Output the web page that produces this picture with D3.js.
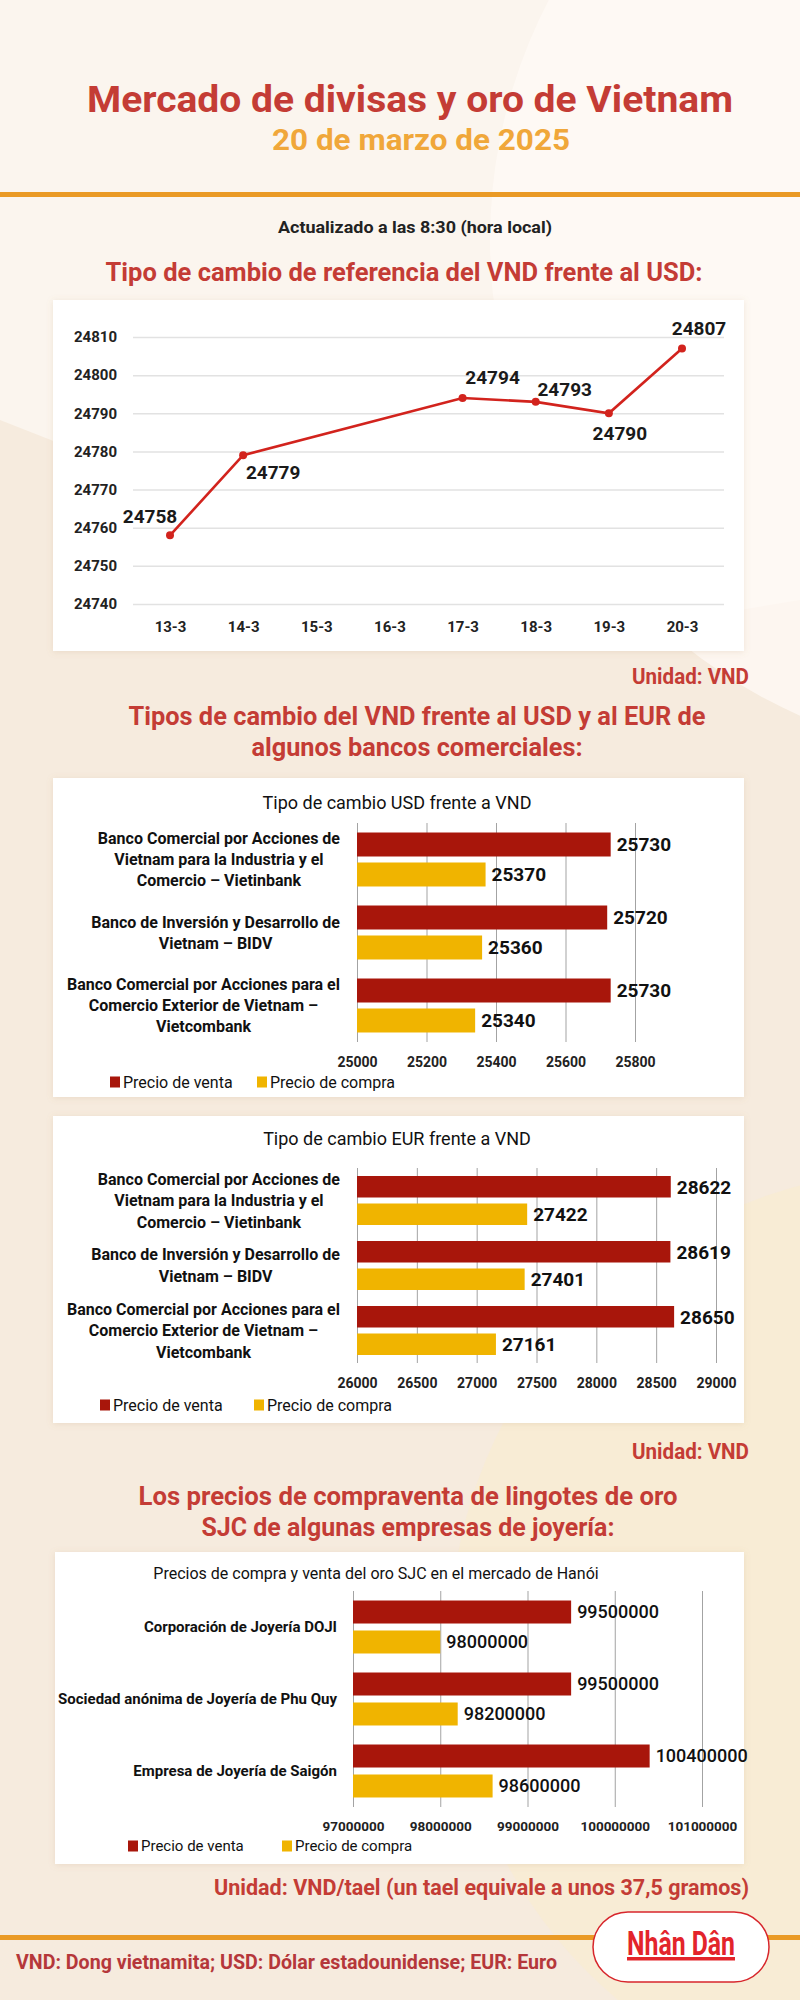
<!DOCTYPE html>
<html>
<head>
<meta charset="utf-8">
<script src="https://cdn.jsdelivr.net/npm/d3@7"></script>
<style>
  body { margin: 0; background: #f6ebde; }
  svg { display: block; }
</style>
</head>
<body>
<svg id="page" width="800" height="2000"></svg>
<script>
// ---- data ----
const dates = ["13-3", "14-3", "15-3", "16-3", "17-3", "18-3", "19-3", "20-3"];
const refRate = [24758, 24779, null, null, 24794, 24793, 24790, 24807];
const refTicks = [24740, 24750, 24760, 24770, 24780, 24790, 24800, 24810];

const banks = [
  "Banco Comercial por Acciones de\nVietnam para la Industria y el\nComercio – Vietinbank",
  "Banco de Inversión y Desarrollo de\nVietnam – BIDV",
  "Banco Comercial por Acciones para el\nComercio Exterior de Vietnam –\nVietcombank"
];
const seriesNames = ["Precio de venta", "Precio de compra"];

const usdVenta = [25730, 25720, 25730];
const usdCompra = [25370, 25360, 25340];
const usdTicks = [25000, 25200, 25400, 25600, 25800];

const eurVenta = [28622, 28619, 28650];
const eurCompra = [27422, 27401, 27161];
const eurTicks = [26000, 26500, 27000, 27500, 28000, 28500, 29000];

const jewellers = [
  "Corporación de Joyería DOJI",
  "Sociedad anónima de Joyería de Phu Quy",
  "Empresa de Joyería de Saigón"
];
const goldVenta = [99500000, 99500000, 100400000];
const goldCompra = [98000000, 98200000, 98600000];
const goldTicks = [97000000, 98000000, 99000000, 100000000, 101000000];

// ---- styling ----
const RED = "#c43c35";
const ORANGE = "#f0a73a";
const VENTA = "#a8160b";
const COMPRA = "#f0b400";
const FONT = "Roboto, 'Noto Sans', sans-serif";

const svg = d3.select("#page");

// background
const defs = svg.append("defs");
const shadow = defs.append("filter").attr("id", "shadow")
  .attr("x", "-5%").attr("y", "-5%").attr("width", "110%").attr("height", "110%");
shadow.append("feDropShadow").attr("dx", 0).attr("dy", 1)
  .attr("stdDeviation", 3).attr("flood-color", "#b08a60").attr("flood-opacity", 0.18);

svg.append("rect").attr("width", 800).attr("height", 2000).attr("fill", "#f6ebde");
svg.append("path").attr("d", "M0,0H800V600L560,640L0,420Z").attr("fill", "#fbf5ee");
svg.append("circle").attr("cx", 1010).attr("cy", 240).attr("r", 520)
  .attr("fill", "#fffaf6").attr("opacity", 0.75);
svg.append("circle").attr("cx", 920).attr("cy", 1640).attr("r", 470)
  .attr("fill", "#fbedc6").attr("opacity", 0.35);

// text fitted to the width it has in the reference
function fitText(sel, w) {
  const n = sel.node();
  if (Math.abs(n.getComputedTextLength() - w) > 2) {
    sel.attr("textLength", w).attr("lengthAdjust", "spacingAndGlyphs");
  }
  return sel;
}
function line(txt, x, y, size, color, w, anchor = "middle") {
  const t = svg.append("text").attr("x", x).attr("y", y)
    .attr("text-anchor", anchor).attr("fill", color)
    .style("font", `bold ${size}px ${FONT}`).text(txt);
  if (w) fitText(t, w);
  return t;
}

// ---- header ----
line("Mercado de divisas y oro de Vietnam", 410, 112, 37, RED, 646);
line("20 de marzo de 2025", 421, 150, 30, ORANGE, 298);
svg.append("rect").attr("x", 0).attr("y", 192).attr("width", 800).attr("height", 5)
  .attr("fill", "#ea9a25");
line("Actualizado a las 8:30 (hora local)", 415, 233, 17, "#222", 274);

function box(x0, y0, x1, y1) {
  svg.append("rect").attr("x", x0).attr("y", y0)
    .attr("width", x1 - x0).attr("height", y1 - y0)
    .attr("fill", "#fff").attr("filter", "url(#shadow)");
}

line("Tipo de cambio de referencia del VND frente al USD:", 404, 281, 25.5, RED, 598);

// ---- line chart ----
box(53, 300, 744, 651);
{
  const x = d3.scalePoint().domain(dates).range([170, 682]);
  const y = d3.scaleLinear().domain([24740, 24810]).range([604, 337]);
  const g = svg.append("g");

  const yAxis = g.append("g").attr("transform", "translate(133,0)")
    .call(d3.axisLeft(y).tickValues(refTicks).tickSize(-591).tickPadding(16).tickFormat(d3.format("d")));
  yAxis.select(".domain").remove();
  yAxis.selectAll(".tick line").attr("stroke", "#e2e2e2").attr("stroke-width", 1.5);
  yAxis.selectAll(".tick text").attr("fill", "#222")
    .style("font", `bold 15px ${FONT}`);

  const xAxis = g.append("g").attr("transform", "translate(0,604)")
    .call(d3.axisBottom(x).tickSize(0).tickPadding(17));
  xAxis.select(".domain").remove();
  xAxis.selectAll(".tick text").attr("fill", "#222")
    .style("font", `bold 15px ${FONT}`);

  const pts = dates.map((d, i) => ({ d, v: refRate[i] })).filter(p => p.v != null);
  g.append("path").datum(pts)
    .attr("fill", "none").attr("stroke", "#d2231d").attr("stroke-width", 2.6)
    .attr("d", d3.line().x(p => x(p.d)).y(p => y(p.v)));
  g.selectAll("circle.pt").data(pts).join("circle").attr("class", "pt")
    .attr("cx", p => x(p.d)).attr("cy", p => y(p.v)).attr("r", 4)
    .attr("fill", "#d2231d");

  // label placement around each point (dx, dy to label centre)
  const labelOffsets = [[-20, -19], [30, 17], [30, -21], [29, -13], [11, 20], [17, -20]];
  g.selectAll("text.val").data(pts).join("text").attr("class", "val")
    .attr("x", (p, i) => x(p.d) + labelOffsets[i][0])
    .attr("y", (p, i) => y(p.v) + labelOffsets[i][1])
    .attr("dy", "0.36em").attr("text-anchor", "middle").attr("fill", "#1a1a1a")
    .style("font", `bold 19px ${FONT}`)
    .text(p => p.v);
}
line("Unidad: VND", 749, 684, 22, RED, 117, "end");

line("Tipos de cambio del VND frente al USD y al EUR de", 417, 725, 25.5, RED, 577);
line("algunos bancos comerciales:", 417, 756, 25.5, RED, 331);

// ---- bar charts ----
function barChart(o) {
  box(o.box[0], o.box[1], o.box[2], o.box[3]);
  const g = svg.append("g");
  g.append("text").attr("x", o.titleX).attr("y", o.titleY).attr("dy", "0.35em")
    .attr("text-anchor", "middle").attr("fill", "#111")
    .style("font", `${o.titleSize}px ${FONT}`)
    .text(o.title);

  const x = d3.scaleLinear().domain(d3.extent(o.ticks)).range(o.xRange);
  const yc = d3.scaleBand().domain(o.cats).range(o.band);
  const ys = d3.scaleBand().domain(seriesNames).range([0, yc.step()])
    .paddingInner(o.padIn).paddingOuter(o.padOut);

  const axis = g.append("g").attr("transform", `translate(0,${o.band[1]})`)
    .call(d3.axisBottom(x).tickValues(o.ticks).tickSize(-(o.band[1] - o.band[0]))
      .tickPadding(o.tickPad).tickFormat(d3.format("d")));
  axis.select(".domain").remove();
  axis.selectAll(".tick line").attr("stroke", "#a3a3a3").attr("stroke-width", 1);
  axis.selectAll(".tick text").attr("fill", "#222")
    .style("font", `bold ${o.tickSize}px ${FONT}`);

  const rows = o.cats.map((c, i) => ({ c, vals: [o.venta[i], o.compra[i]] }));
  const grp = g.selectAll("g.cat").data(rows).join("g").attr("class", "cat")
    .attr("transform", r => `translate(0,${yc(r.c)})`);

  grp.selectAll("rect").data(r => r.vals.map((v, j) => ({ v, s: seriesNames[j] })))
    .join("rect")
    .attr("x", x.range()[0]).attr("y", d => ys(d.s))
    .attr("width", d => x(d.v) - x.range()[0]).attr("height", ys.bandwidth())
    .attr("fill", d => d.s === seriesNames[0] ? VENTA : COMPRA);

  grp.selectAll("text.val").data(r => r.vals.map((v, j) => ({ v, s: seriesNames[j] })))
    .join("text").attr("class", "val")
    .attr("x", d => x(d.v) + 6).attr("y", d => ys(d.s) + ys.bandwidth() / 2)
    .attr("dy", "0.36em").attr("fill", "#111")
    .style("font", `${o.valWeight} ${o.valSize}px ${FONT}`)
    .text(d => d.v);

  // category labels: block right-aligned at catRight, lines centred in the block
  grp.each(function (r) {
    const lines = r.c.split("\n");
    const t = d3.select(this).append("text")
      .attr("text-anchor", "middle").attr("fill", "#111")
      .style("font", `bold ${o.catSize}px ${FONT}`);
    const mid = yc.step() / 2;
    const spans = lines.map((ln, k) => t.append("tspan")
      .attr("y", mid + (k - (lines.length - 1) / 2) * o.lineH)
      .attr("dy", "0.35em").text(ln));
    const wMax = d3.max(spans, s => s.node().getComputedTextLength());
    spans.forEach(s => s.attr("x", o.catRight - wMax / 2));
  });

  // legend
  const lg = g.append("g").attr("transform", `translate(0,${o.legend.y})`);
  seriesNames.forEach((s, j) => {
    lg.append("rect").attr("x", o.legend.x[j]).attr("y", -5.5)
      .attr("width", 10).attr("height", 11)
      .attr("fill", j === 0 ? VENTA : COMPRA);
    lg.append("text").attr("x", o.legend.x[j] + 13).attr("y", 0).attr("dy", "0.35em")
      .attr("fill", "#111").style("font", `${o.legendSize}px ${FONT}`)
      .text(s);
  });
}

barChart({
  box: [53, 778, 744, 1097], title: "Tipo de cambio USD frente a VND",
  titleX: 397, titleY: 803, titleSize: 18,
  cats: banks, venta: usdVenta, compra: usdCompra, ticks: usdTicks,
  xRange: [357, 635], band: [823, 1042], padIn: 0.2, padOut: 0.317,
  tickPad: 15, tickSize: 14, valSize: 19, valWeight: "bold",
  catRight: 340, catSize: 16, lineH: 21,
  legend: { y: 1082, x: [110, 257] }, legendSize: 16
});

barChart({
  box: [53, 1116, 744, 1423], title: "Tipo de cambio EUR frente a VND",
  titleX: 397, titleY: 1139, titleSize: 18,
  cats: banks, venta: eurVenta, compra: eurCompra, ticks: eurTicks,
  xRange: [357, 716], band: [1168, 1363], padIn: 0.218, padOut: 0.291,
  tickPad: 15, tickSize: 14, valSize: 19, valWeight: "bold",
  catRight: 340, catSize: 16, lineH: 21.5,
  legend: { y: 1405, x: [100, 254] }, legendSize: 16
});
line("Unidad: VND", 749, 1459, 22, RED, 117, "end");

line("Los precios de compraventa de lingotes de oro", 408, 1505, 26, RED, 539);
line("SJC de algunas empresas de joyería:", 408, 1536, 26, RED, 413);

barChart({
  box: [55, 1552, 744, 1864], title: "Precios de compra y venta del oro SJC en el mercado de Hanói",
  titleX: 376, titleY: 1573, titleSize: 16,
  cats: jewellers, venta: goldVenta, compra: goldCompra, ticks: goldTicks,
  xRange: [353, 702], band: [1591, 1807], padIn: 0.233, padOut: 0.317,
  tickPad: 14, tickSize: 13.5, valSize: 18, valWeight: "500",
  catRight: 337, catSize: 15, lineH: 20,
  legend: { y: 1846, x: [128, 282] }, legendSize: 15
});
line("Unidad: VND/tael (un tael equivale a unos 37,5 gramos)", 749, 1895, 22, RED, 535, "end");

// ---- footer ----
svg.append("rect").attr("x", 0).attr("y", 1935).attr("width", 800).attr("height", 5)
  .attr("fill", "#ea9a25");
line("VND: Dong vietnamita; USD: Dólar estadounidense; EUR: Euro", 16, 1969, 20, "#b5373a", 541, "start");

const logo = svg.append("g");
logo.append("rect").attr("x", 593).attr("y", 1912).attr("width", 176).attr("height", 70)
  .attr("rx", 35).attr("fill", "#fff").attr("stroke", "#d7262c").attr("stroke-width", 1.5);
logo.append("text").attr("x", 681).attr("y", 1955).attr("text-anchor", "middle")
  .attr("fill", "#e3242b").attr("textLength", 108).attr("lengthAdjust", "spacingAndGlyphs")
  .style("font", `bold 33px ${FONT}`)
  .text("Nhân Dân");
logo.append("rect").attr("x", 627).attr("y", 1957).attr("width", 108).attr("height", 3.5)
  .attr("fill", "#e3242b");
</script>
</body>
</html>
